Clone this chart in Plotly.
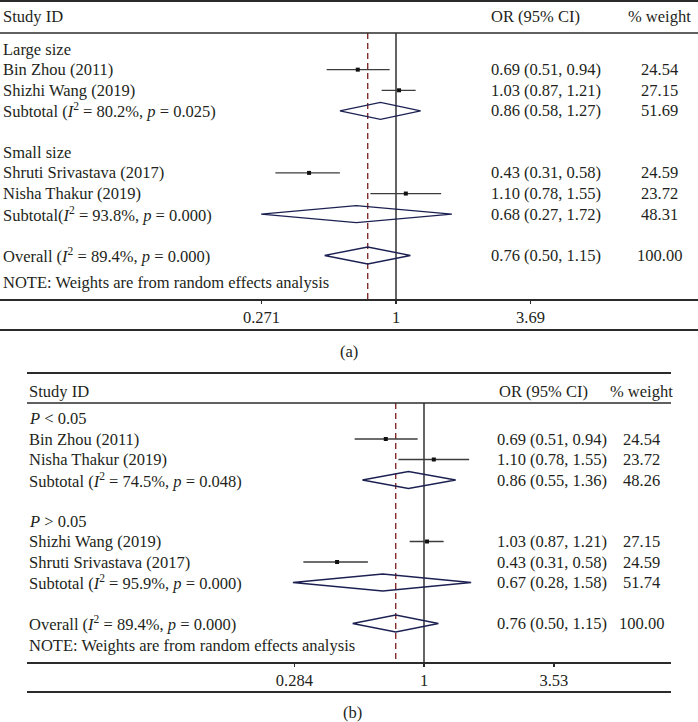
import math
import plotly.graph_objects as go

W, H = 698, 722
FONT = "Liberation Serif"
FS = 16.5
TXT = "#231f20"

# ---------------- data: panel (a) ----------------
a_group_labels = ["Large size", "Small size"]
a_studies = [["Bin Zhou (2011)", "Shizhi Wang (2019)"],
             ["Shruti Srivastava (2017)", "Nisha Thakur (2019)"]]
a_or = [[0.69, 1.03], [0.43, 1.10]]
a_lo = [[0.51, 0.87], [0.31, 0.78]]
a_hi = [[0.94, 1.21], [0.58, 1.55]]
a_wt = [[24.54, 27.15], [24.59, 23.72]]
a_sub_prefix = ["Subtotal (", "Subtotal("]
a_sub_or = [0.86, 0.68]
a_sub_lo = [0.58, 0.27]
a_sub_hi = [1.27, 1.72]
a_sub_wt = [51.69, 48.31]
a_sub_i2 = [80.2, 93.8]
a_sub_p = [0.025, 0.000]
a_all = [0.76, 0.50, 1.15, 100.00]
a_all_i2, a_all_p = 89.4, 0.000
a_ticks = [0.271, 1, 3.69]

# ---------------- data: panel (b) ----------------
b_group_labels = ["<i>P</i> &lt; 0.05", "<i>P</i> &gt; 0.05"]
b_studies = [["Bin Zhou (2011)", "Nisha Thakur (2019)"],
             ["Shizhi Wang (2019)", "Shruti Srivastava (2017)"]]
b_or = [[0.69, 1.10], [1.03, 0.43]]
b_lo = [[0.51, 0.78], [0.87, 0.31]]
b_hi = [[0.94, 1.55], [1.21, 0.58]]
b_wt = [[24.54, 23.72], [27.15, 24.59]]
b_sub_prefix = ["Subtotal (", "Subtotal ("]
b_sub_or = [0.86, 0.67]
b_sub_lo = [0.55, 0.28]
b_sub_hi = [1.36, 1.58]
b_sub_wt = [48.26, 51.74]
b_sub_i2 = [74.5, 95.9]
b_sub_p = [0.048, 0.000]
b_all = [0.76, 0.50, 1.15, 100.00]
b_all_i2, b_all_p = 89.4, 0.000
b_ticks = [0.284, 1, 3.53]

NOTE = "NOTE: Weights are from random effects analysis"

PX_PER_LOG10 = 103 * math.log(10)

fig = go.Figure()
annotations = []
shapes = []


def py(y):
    return 1 - y / H


def text(x, y, s, anchor="left", size=FS):
    annotations.append(dict(x=x / W, y=py(y), xref="paper", yref="paper", text=s,
                            showarrow=False, xanchor=anchor, yanchor="middle",
                            font=dict(family=FONT, size=size, color=TXT)))


def hline(y, x0, x1, width):
    shapes.append(dict(type="line", xref="paper", yref="paper",
                       x0=x0 / W, x1=x1 / W, y0=py(y), y1=py(y),
                       line=dict(color="#2b2b2b", width=width)))


def panel(cfg, groups, studies, ors, los, his, wts, sub_prefix, sub_or, sub_lo, sub_hi,
          sub_wt, sub_i2, sub_p, allv, all_i2, all_p, ticks):
    xa, ya = cfg["xa"], cfg["ya"]
    xref = "x" if xa == "xaxis" else "x2"
    yref = "y" if ya == "yaxis" else "y2"
    y0, step = cfg["y0"], cfg["step"]
    lx, ox, wx = cfg["label_x"], cfg["or_x"], cfg["wt_x"]

    # frame lines and headers
    hline(cfg["top"], cfg["x0"], cfg["x1"], 2)
    hline(cfg["head_line"], cfg["x0"], cfg["x1"], 1.5)
    hline(cfg["bottom"], cfg["x0"], cfg["x1"], 2)
    text(lx, cfg["head"], "Study ID")
    text(cfg["or_head_x"], cfg["head"], "OR (95% CI)")
    text(wx, cfg["head"], "% weight", anchor="center")

    ci_x, ci_y, mk_x, mk_y = [], [], [], []
    dia_x, dia_y = [], []
    hh = 8.5
    for g in range(len(groups)):
        base = g * 5
        text(lx, y0 + step * base, groups[g])
        for j in range(len(studies[g])):
            yy = y0 + step * (base + 1 + j)
            text(lx, yy, studies[g][j])
            text(ox, yy, f"{ors[g][j]:.2f} ({los[g][j]:.2f}, {his[g][j]:.2f})")
            text(wx, yy, f"{wts[g][j]:.2f}", anchor="center")
            ci_x += [los[g][j], his[g][j], None]
            ci_y += [yy, yy, None]
            mk_x.append(ors[g][j])
            mk_y.append(yy)
        yy = y0 + step * (base + 3)
        text(lx, yy, f"{sub_prefix[g]}<i>I</i><sup>2</sup> = {sub_i2[g]:.1f}%, <i>p</i> = {sub_p[g]:.3f})")
        text(ox, yy, f"{sub_or[g]:.2f} ({sub_lo[g]:.2f}, {sub_hi[g]:.2f})")
        text(wx, yy, f"{sub_wt[g]:.2f}", anchor="center")
        dia_x += [sub_lo[g], sub_or[g], sub_hi[g], sub_or[g], sub_lo[g], None]
        dia_y += [yy, yy - hh, yy, yy + hh, yy, None]
    yy = y0 + step * 10
    text(lx, yy, f"Overall (<i>I</i><sup>2</sup> = {all_i2:.1f}%, <i>p</i> = {all_p:.3f})")
    text(ox, yy, f"{allv[0]:.2f} ({allv[1]:.2f}, {allv[2]:.2f})")
    text(wx, yy, f"{allv[3]:.2f}", anchor="center")
    dia_x += [allv[1], allv[0], allv[2], allv[0], allv[1]]
    dia_y += [yy, yy - hh, yy, yy + hh, yy]
    text(lx, cfg["note"], NOTE)
    text(cfg["cap_x"], cfg["cap_y"], cfg["cap"], anchor="center")

    vt, vb = cfg["head_line"], cfg["axis"]
    # null line at OR = 1
    fig.add_trace(go.Scatter(x=[1, 1], y=[vt, vb], mode="lines", xaxis=xref, yaxis=yref,
                             line=dict(color="#111111", width=1.3), hoverinfo="skip"))
    # overall estimate dashed line
    fig.add_trace(go.Scatter(x=[allv[0], allv[0]], y=[vt, vb], mode="lines", xaxis=xref, yaxis=yref,
                             line=dict(color="#7a1c1c", width=1.3, dash="6px,4px"), hoverinfo="skip"))
    fig.add_trace(go.Scatter(x=ci_x, y=ci_y, mode="lines", xaxis=xref, yaxis=yref,
                             line=dict(color="#3c3c3c", width=1.3), hoverinfo="skip"))
    fig.add_trace(go.Scatter(x=mk_x, y=mk_y, mode="markers", xaxis=xref, yaxis=yref,
                             marker=dict(symbol="square", size=4, color="#111111"), hoverinfo="skip"))
    fig.add_trace(go.Scatter(x=dia_x, y=dia_y, mode="lines", xaxis=xref, yaxis=yref,
                             line=dict(color="#1c2152", width=1.3), hoverinfo="skip"))

    one = cfg["one_px"]
    rng = [-(one - cfg["x0"]) / PX_PER_LOG10, (cfg["x1"] - one) / PX_PER_LOG10]
    fig.update_layout(**{
        xa: dict(type="log", domain=[cfg["x0"] / W, cfg["x1"] / W], range=rng,
                 anchor=yref, showgrid=False, zeroline=False, showline=True,
                 linecolor="#2b2b2b", linewidth=1.5, ticks="outside", ticklen=3,
                 tickcolor="#2b2b2b", tickwidth=1.3,
                 tickvals=ticks, ticktext=[f"{t:g}" for t in ticks],
                 tickfont=dict(family=FONT, size=FS, color=TXT), fixedrange=True),
        ya: dict(domain=[py(cfg["axis"]), py(cfg["ytop"])], range=[cfg["axis"], cfg["ytop"]],
                 visible=False, showgrid=False, zeroline=False, fixedrange=True, anchor=xref),
    })


cfg_a = dict(xa="xaxis", ya="yaxis", x0=0, x1=698, one_px=396, top=1, head=17, head_line=33,
             axis=299, bottom=330, ytop=0, y0=49, step=20.65, note=282,
             label_x=1, or_x=489, or_head_x=489, wt_x=659, cap="(a)", cap_x=349, cap_y=351)
cfg_b = dict(xa="xaxis2", ya="yaxis2", x0=27, x1=671, one_px=424, top=373, head=391, head_line=403,
             axis=662, bottom=692, ytop=362, y0=418.5, step=20.5, note=645,
             label_x=27, or_x=495, or_head_x=497, wt_x=641.5, cap="(b)", cap_x=352, cap_y=712)

panel(cfg_a, a_group_labels, a_studies, a_or, a_lo, a_hi, a_wt, a_sub_prefix, a_sub_or, a_sub_lo,
      a_sub_hi, a_sub_wt, a_sub_i2, a_sub_p, a_all, a_all_i2, a_all_p, a_ticks)
panel(cfg_b, b_group_labels, b_studies, b_or, b_lo, b_hi, b_wt, b_sub_prefix, b_sub_or, b_sub_lo,
      b_sub_hi, b_sub_wt, b_sub_i2, b_sub_p, b_all, b_all_i2, b_all_p, b_ticks)

fig.update_layout(width=W, height=H, margin=dict(l=0, r=0, t=0, b=0),
                  paper_bgcolor="white", plot_bgcolor="rgba(0,0,0,0)",
                  showlegend=False, annotations=annotations, shapes=shapes)

fig.write_html("out.html", config={"displayModeBar": False, "staticPlot": True},
               post_script="document.body.style.margin='0';document.body.style.overflow='hidden';")
